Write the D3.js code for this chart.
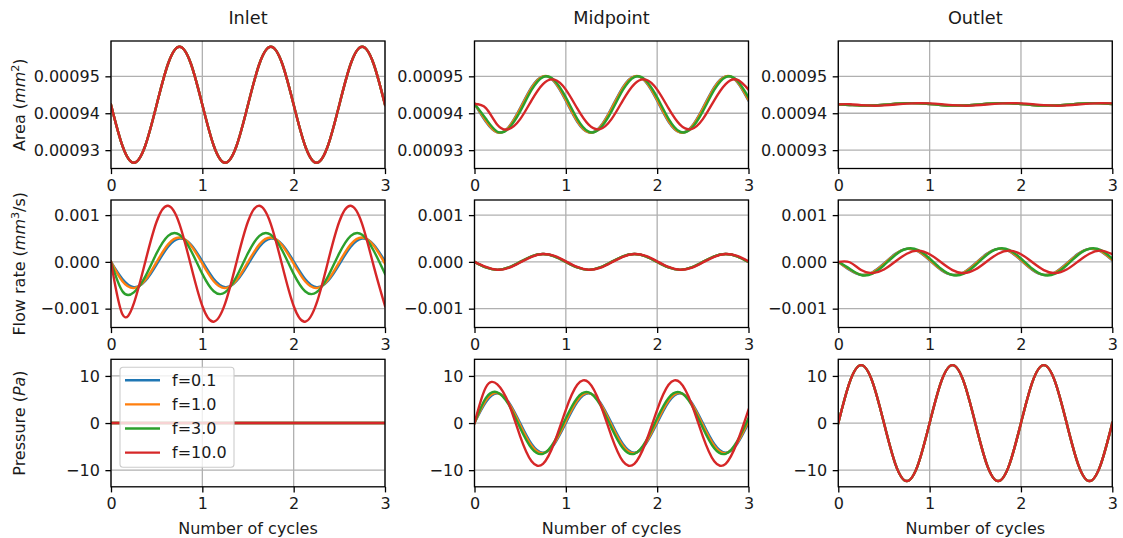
<!DOCTYPE html>
<html>
<head>
<meta charset="utf-8">
<script src="https://cdn.jsdelivr.net/npm/d3@7"></script>
<style>
  body { margin: 0; background: #fff; }
  svg text { font-family: "DejaVu Sans", sans-serif; fill: #1a1a1a; }
</style>
</head>
<body>
<svg id="chart" width="1123" height="538"></svg>
<script>
// sample times (cycles) shared by every series
const cycles = [0, 0.125, 0.25, 0.375, 0.5, 0.625, 0.75, 0.875, 1, 1.125, 1.25, 1.375, 1.5, 1.625, 1.75, 1.875, 2, 2.125, 2.25, 2.375, 2.5, 2.625, 2.75, 2.875, 3];

const freqLabels = ["f=0.1", "f=1.0", "f=3.0", "f=10.0"];
const colors = ["#1f77b4", "#ff7f0e", "#2ca02c", "#d62728"];
const columnTitles = ["Inlet", "Midpoint", "Outlet"];
const xTicks = [0, 1, 2, 3];
const areaTicks = [0.00093, 0.00094, 0.00095];
const flowTicks = [-0.001, 0, 0.001];
const pressureTicks = [-10, 0, 10];

// --- Area (mm^2) ---
const inletArea = [0.0009423, 0.0009312, 0.0009266, 0.0009312, 0.0009423, 0.0009534, 0.0009580, 0.0009534, 0.0009423, 0.0009312, 0.0009266, 0.0009312, 0.0009423, 0.0009534, 0.0009580, 0.0009534, 0.0009423, 0.0009312, 0.0009266, 0.0009312, 0.0009423, 0.0009534, 0.0009580, 0.0009534, 0.0009423];
const midArea01 = [0.0009426, 0.0009377, 0.0009348, 0.0009363, 0.0009414, 0.0009471, 0.0009500, 0.0009485, 0.0009434, 0.0009377, 0.0009348, 0.0009363, 0.0009414, 0.0009471, 0.0009500, 0.0009485, 0.0009434, 0.0009377, 0.0009348, 0.0009363, 0.0009414, 0.0009471, 0.0009500, 0.0009485, 0.0009434];
const midArea1 = [0.0009426, 0.0009379, 0.0009348, 0.0009362, 0.0009412, 0.0009469, 0.0009500, 0.0009486, 0.0009436, 0.0009379, 0.0009348, 0.0009362, 0.0009412, 0.0009469, 0.0009500, 0.0009486, 0.0009436, 0.0009379, 0.0009348, 0.0009362, 0.0009412, 0.0009469, 0.0009500, 0.0009486, 0.0009436];
const midArea3 = [0.0009426, 0.0009385, 0.0009350, 0.0009359, 0.0009405, 0.0009463, 0.0009498, 0.0009489, 0.0009443, 0.0009385, 0.0009350, 0.0009359, 0.0009405, 0.0009463, 0.0009498, 0.0009489, 0.0009443, 0.0009385, 0.0009350, 0.0009359, 0.0009405, 0.0009463, 0.0009498, 0.0009489, 0.0009443];
const midArea10 = [0.0009425, 0.0009414, 0.0009369, 0.0009357, 0.0009384, 0.0009435, 0.0009479, 0.0009491, 0.0009464, 0.0009413, 0.0009369, 0.0009357, 0.0009384, 0.0009435, 0.0009479, 0.0009491, 0.0009464, 0.0009413, 0.0009369, 0.0009357, 0.0009384, 0.0009435, 0.0009479, 0.0009491, 0.0009464];
const outArea = [0.0009424, 0.00094224, 0.00094207, 0.00094209, 0.00094229, 0.00094256, 0.00094273, 0.00094271, 0.00094251, 0.00094224, 0.00094207, 0.00094209, 0.00094229, 0.00094256, 0.00094273, 0.00094271, 0.00094251, 0.00094224, 0.00094207, 0.00094209, 0.00094229, 0.00094256, 0.00094273, 0.00094271, 0.00094251];
const outArea10 = [0.0009424, 0.00094245, 0.00094219, 0.00094205, 0.00094212, 0.00094235, 0.00094261, 0.00094275, 0.00094268, 0.00094245, 0.00094219, 0.00094205, 0.00094212, 0.00094235, 0.00094261, 0.00094275, 0.00094268, 0.00094245, 0.00094219, 0.00094205, 0.00094212, 0.00094235, 0.00094261, 0.00094275, 0.00094268];

// --- Flow rate (mm^3/s) ---
const inFlow01 = [0, -0.000364, -0.000539, -0.000410, -0.000053, 0.000324, 0.000499, 0.000370, 0.000013, -0.000364, -0.000539, -0.000410, -0.000053, 0.000324, 0.000499, 0.000370, 0.000013, -0.000364, -0.000539, -0.000410, -0.000053, 0.000324, 0.000499, 0.000370, 0.000013];
const inFlow1 = [0, -0.000414, -0.000560, -0.000390, -0.000003, 0.000374, 0.000520, 0.000350, -0.000037, -0.000414, -0.000560, -0.000390, -0.000003, 0.000374, 0.000520, 0.000350, -0.000037, -0.000414, -0.000560, -0.000390, -0.000003, 0.000374, 0.000520, 0.000350, -0.000037];
const inFlow3 = [0, -0.000628, -0.000651, -0.000314, 0.000187, 0.000558, 0.000581, 0.000244, -0.000257, -0.000628, -0.000651, -0.000314, 0.000187, 0.000558, 0.000581, 0.000244, -0.000257, -0.000628, -0.000651, -0.000314, 0.000187, 0.000558, 0.000581, 0.000244, -0.000257];
const inFlow10 = [0, -0.001120, -0.000889, -0.000001, 0.000864, 0.001199, 0.000809, -0.000079, -0.000944, -0.001279, -0.000889, -0.000001, 0.000864, 0.001199, 0.000809, -0.000079, -0.000944, -0.001279, -0.000889, -0.000001, 0.000864, 0.001199, 0.000809, -0.000079, -0.000944];
const midFlow = [0, -0.00012, -0.00017, -0.00012, 0, 0.00012, 0.00017, 0.00012, 0, -0.00012, -0.00017, -0.00012, 0, 0.00012, 0.00017, 0.00012, 0, -0.00012, -0.00017, -0.00012, 0, 0.00012, 0.00017, 0.00012, 0];
const midFlow10 = [0, -0.000108, -0.000168, -0.000128, -0.000012, 0.000108, 0.000168, 0.000128, 0.000012, -0.000108, -0.000168, -0.000128, -0.000012, 0.000108, 0.000168, 0.000128, 0.000012, -0.000108, -0.000168, -0.000128, -0.000012, 0.000108, 0.000168, 0.000128, 0.000012];
const outFlow01 = [0, -0.000172, -0.000278, -0.000221, -0.000035, 0.000172, 0.000278, 0.000221, 0.000035, -0.000172, -0.000278, -0.000221, -0.000035, 0.000172, 0.000278, 0.000221, 0.000035, -0.000172, -0.000278, -0.000221, -0.000035, 0.000172, 0.000278, 0.000221, 0.000035];
const outFlow1 = [0, -0.000165, -0.000277, -0.000227, -0.000044, 0.000165, 0.000277, 0.000227, 0.000044, -0.000165, -0.000277, -0.000227, -0.000044, 0.000165, 0.000277, 0.000227, 0.000044, -0.000165, -0.000277, -0.000227, -0.000044, 0.000165, 0.000277, 0.000227, 0.000044];
const outFlow3 = [0, -0.000148, -0.000281, -0.000250, -0.000072, 0.000148, 0.000281, 0.000250, 0.000072, -0.000148, -0.000281, -0.000250, -0.000072, 0.000148, 0.000281, 0.000250, 0.000072, -0.000148, -0.000281, -0.000250, -0.000072, 0.000148, 0.000281, 0.000250, 0.000072];
const outFlow10 = [0, -0.000008, -0.000175, -0.000240, -0.000164, 0.000008, 0.000175, 0.000240, 0.000164, -0.000008, -0.000175, -0.000240, -0.000164, 0.000008, 0.000175, 0.000240, 0.000164, -0.000008, -0.000175, -0.000240, -0.000164, 0.000008, 0.000175, 0.000240, 0.000164];

// --- Pressure (Pa) ---
const inPressure = [0, 0, 0, 0, 0, 0, 0, 0, 0, 0, 0, 0, 0, 0, 0, 0, 0, 0, 0, 0, 0, 0, 0, 0, 0];
const midPres01 = [0, 4.45, 6.3, 4.45, 0, -4.45, -6.3, -4.45, 0, 4.45, 6.3, 4.45, 0, -4.45, -6.3, -4.45, 0, 4.45, 6.3, 4.45, 0, -4.45, -6.3, -4.45, 0];
const midPres1 = [0, 4.80, 6.39, 4.23, -0.40, -4.80, -6.39, -4.23, 0.40, 4.80, 6.39, 4.23, -0.40, -4.80, -6.39, -4.23, 0.40, 4.80, 6.39, 4.23, -0.40, -4.80, -6.39, -4.23, 0.40];
const midPres3 = [0, 5.34, 6.52, 3.88, -1.03, -5.34, -6.52, -3.88, 1.03, 5.34, 6.52, 3.88, -1.03, -5.34, -6.52, -3.88, 1.03, 5.34, 6.52, 3.88, -1.03, -5.34, -6.52, -3.88, 1.03];
const midPres10 = [0, 7.6, 8.2, 4.13, -2.81, -8.11, -8.65, -4.13, 2.81, 8.11, 8.65, 4.13, -2.81, -8.11, -8.65, -4.13, 2.81, 8.11, 8.65, 4.13, -2.81, -8.11, -8.65, -4.13, 2.81];
const outPressure = [0, 8.7, 12.3, 8.7, 0, -8.7, -12.3, -8.7, 0, 8.7, 12.3, 8.7, 0, -8.7, -12.3, -8.7, 0, 8.7, 12.3, 8.7, 0, -8.7, -12.3, -8.7, 0];

// one entry per subplot row; panels hold the four series (f=0.1, 1, 3, 10) per column
const rows = [
  { label: ["Area (", "mm", "2", ")"], ticks: areaTicks, fmt: d3.format(".5f"),
    panels: [[inletArea, inletArea, inletArea, inletArea],
             [midArea01, midArea1, midArea3, midArea10],
             [outArea, outArea, outArea, outArea10]] },
  { label: ["Flow rate (", "mm", "3", "/s)"], ticks: flowTicks, fmt: d3.format(".3f"),
    panels: [[inFlow01, inFlow1, inFlow3, inFlow10],
             [midFlow, midFlow, midFlow, midFlow10],
             [outFlow01, outFlow1, outFlow3, outFlow10]] },
  { label: ["Pressure (", "Pa", "", ")"], ticks: pressureTicks, fmt: d3.format("d"),
    panels: [[inPressure, inPressure, inPressure, inPressure],
             [midPres01, midPres1, midPres3, midPres10],
             [outPressure, outPressure, outPressure, outPressure]] }
];

const colX = [111, 474.5, 838.3], colW = 274;
const rowY = [41, 200, 359.3], rowH = 127.5;
const tickLen = 5.6, tickPad = 5.6, fs = 16;

const svg = d3.select("#chart");

rows.forEach((row, ri) => {
  // shared y per row, matplotlib-style 5% margin
  const all = row.panels.flat(2);
  const [lo, hi] = d3.extent(all);
  const pad = (hi - lo) * 0.05;
  const y = d3.scaleLinear().domain([lo - pad, hi + pad]).range([rowH, 0]);

  row.panels.forEach((series, ci) => {
    const x = d3.scaleLinear().domain([0, 3]).range([0, colW]);
    const g = svg.append("g").attr("transform", `translate(${colX[ci]},${rowY[ri]})`);
    const clipId = `clip-${ri}-${ci}`;
    g.append("clipPath").attr("id", clipId)
      .append("rect").attr("width", colW).attr("height", rowH);

    // grid
    g.append("g").selectAll("line").data(xTicks).join("line")
      .attr("x1", d => x(d)).attr("x2", d => x(d)).attr("y1", 0).attr("y2", rowH)
      .attr("stroke", "#b0b0b0").attr("stroke-width", 1.3);
    g.append("g").selectAll("line").data(row.ticks).join("line")
      .attr("y1", d => y(d)).attr("y2", d => y(d)).attr("x1", 0).attr("x2", colW)
      .attr("stroke", "#b0b0b0").attr("stroke-width", 1.3);

    // series
    const line = d3.line().x((d, i) => x(cycles[i])).y(d => y(d)).curve(d3.curveNatural);
    g.append("g").attr("clip-path", `url(#${clipId})`)
      .selectAll("path").data(series).join("path")
      .attr("d", line)
      .attr("fill", "none")
      .attr("stroke", (d, i) => colors[i])
      .attr("stroke-width", 2.4)
      .attr("stroke-linejoin", "round")
      .attr("stroke-linecap", "square");

    // axes
    const xa = g.append("g").attr("transform", `translate(0,${rowH})`)
      .call(d3.axisBottom(x).tickValues(xTicks).tickFormat(d3.format("d"))
        .tickSize(tickLen).tickPadding(tickPad));
    const ya = g.append("g")
      .call(d3.axisLeft(y).tickValues(row.ticks).tickFormat(row.fmt)
        .tickSize(tickLen).tickPadding(tickPad));
    [xa, ya].forEach(a => {
      a.attr("font-family", null).attr("font-size", fs);
      a.select(".domain").remove();
      a.selectAll(".tick line").attr("stroke", "#000").attr("stroke-width", 1.3);
      a.selectAll(".tick text").attr("fill", null);
    });

    // spines
    g.append("rect").attr("width", colW).attr("height", rowH)
      .attr("fill", "none").attr("stroke", "#000").attr("stroke-width", 1.3);

    if (ri === 0) {
      svg.append("text").attr("x", colX[ci] + colW / 2).attr("y", 24)
        .attr("text-anchor", "middle").attr("font-size", 17.7).text(columnTitles[ci]);
    }
    if (ri === rows.length - 1) {
      svg.append("text").attr("x", colX[ci] + colW / 2).attr("y", 534)
        .attr("text-anchor", "middle").attr("font-size", fs).text("Number of cycles");
    }

    // legend in the inlet pressure panel
    if (ri === 2 && ci === 0) {
      const lg = g.append("g").attr("transform", "translate(9,8)");
      lg.append("rect").attr("width", 114).attr("height", 100).attr("rx", 3)
        .attr("fill", "#fff").attr("fill-opacity", 0.8)
        .attr("stroke", "#cccccc").attr("stroke-width", 1.1);
      const it = lg.selectAll("g").data(freqLabels).join("g")
        .attr("transform", (d, i) => `translate(0,${13 + i * 24.1})`);
      it.append("line").attr("x1", 5).attr("x2", 40)
        .attr("stroke", (d, i) => colors[i]).attr("stroke-width", 2.4);
      it.append("text").attr("x", 52).attr("dy", "0.36em").attr("font-size", fs).text(d => d);
    }
  });

  // y label, only on the left column
  const cy = rowY[ri] + rowH / 2;
  const t = svg.append("text").attr("text-anchor", "middle").attr("font-size", fs)
    .attr("transform", `translate(25,${cy}) rotate(-90)`);
  t.append("tspan").text(row.label[0]);
  t.append("tspan").attr("font-style", "italic").text(row.label[1]);
  if (row.label[2]) {
    t.append("tspan").attr("dy", -6).attr("font-size", 11.2).text(row.label[2]);
    t.append("tspan").attr("dy", 6).text(row.label[3]);
  } else {
    t.append("tspan").text(row.label[3]);
  }
});
</script>
</body>
</html>
